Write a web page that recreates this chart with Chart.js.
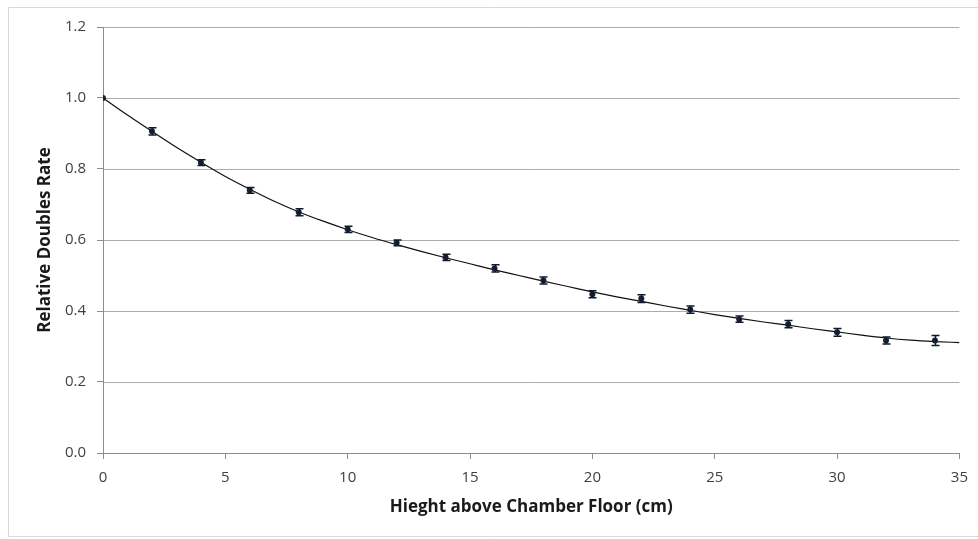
<!DOCTYPE html>
<html>
<head>
<meta charset="utf-8">
<title>Relative Doubles Rate vs Height</title>
<script src="https://cdn.jsdelivr.net/npm/chart.js@4/dist/chart.umd.min.js"></script>
<style>
  html, body { margin: 0; padding: 0; background: #ffffff; }
  #wrap { position: relative; width: 978px; height: 539px; }
</style>
</head>
<body>
<div id="wrap"><canvas id="chart" width="978" height="539"></canvas></div>
<script>
// Measured points: height above floor (cm) and relative doubles rate
const heights = [0, 2, 4, 6, 8, 10, 12, 14, 16, 18, 20, 22, 24, 26, 28, 30, 32, 34];
const doublesRate = [1.000, 0.906, 0.818, 0.740, 0.678, 0.630, 0.592, 0.551, 0.520, 0.486,
                     0.447, 0.435, 0.404, 0.377, 0.363, 0.340, 0.317, 0.317];
const rateError = [0, 0.010, 0.008, 0.008, 0.010, 0.009, 0.008, 0.009, 0.010, 0.010,
                   0.010, 0.011, 0.010, 0.009, 0.010, 0.011, 0.010, 0.014];

// Smooth fitted trend curve
const fitHeights = [0, 1, 2, 3, 4, 5, 6, 7, 8, 9, 10, 11, 12, 13, 14, 15, 16, 17, 18,
                    19, 20, 21, 22, 23, 24, 25, 26, 27, 28, 29, 30, 31, 32, 33, 34, 35];
const fitRate = [1.000, 0.952, 0.906, 0.861, 0.819, 0.779, 0.743, 0.709, 0.679, 0.653,
                 0.629, 0.607, 0.587, 0.568, 0.550, 0.533, 0.516, 0.500, 0.484, 0.469,
                 0.454, 0.440, 0.427, 0.414, 0.402, 0.390, 0.379, 0.369, 0.360, 0.350,
                 0.341, 0.332, 0.324, 0.318, 0.314, 0.311];

// Axis ticks
const xTicks = [0, 5, 10, 15, 20, 25, 30, 35];
const yTicks = [0.0, 0.2, 0.4, 0.6, 0.8, 1.0, 1.2];

const pointData = heights.map((h, i) => ({ x: h, y: doublesRate[i] }));
const fitData = fitHeights.map((h, i) => ({ x: h, y: fitRate[i] }));

// White background, light outer frame, and horizontal gridlines across the plot area
const backdropPlugin = {
  id: 'backdrop',
  beforeDraw(chart) {
    const ctx = chart.ctx;
    const a = chart.chartArea, ys = chart.scales.y;
    ctx.save();
    ctx.fillStyle = '#ffffff';
    ctx.fillRect(0, 0, chart.width, chart.height);
    ctx.strokeStyle = '#d9d9d9';
    ctx.lineWidth = 1;
    ctx.beginPath();
    ctx.moveTo(chart.width, 7.5);
    ctx.lineTo(8.5, 7.5);
    ctx.lineTo(8.5, 536.5);
    ctx.lineTo(chart.width, 536.5);
    ctx.stroke();
    ctx.strokeStyle = '#ababab';
    yTicks.forEach(v => {
      const py = Math.round(ys.getPixelForValue(v)) + 0.5;
      ctx.beginPath();
      ctx.moveTo(a.left, py);
      ctx.lineTo(a.right, py);
      ctx.stroke();
    });
    ctx.restore();
  }
};

// Vertical error bars with caps for the measured points
const errorBarPlugin = {
  id: 'errorBars',
  afterDatasetsDraw(chart) {
    const ctx = chart.ctx;
    const xs = chart.scales.x, ys = chart.scales.y;
    ctx.save();
    ctx.strokeStyle = '#111827';
    ctx.lineWidth = 1.5;
    heights.forEach((h, i) => {
      const e = rateError[i];
      if (!e) return;
      const px = Math.round(xs.getPixelForValue(h)) + 0.5;
      const yTop = ys.getPixelForValue(doublesRate[i] + e);
      const yBot = ys.getPixelForValue(doublesRate[i] - e);
      ctx.beginPath();
      ctx.moveTo(px, yTop); ctx.lineTo(px, yBot);
      ctx.moveTo(px - 4, yTop); ctx.lineTo(px + 4, yTop);
      ctx.moveTo(px - 4, yBot); ctx.lineTo(px + 4, yBot);
      ctx.stroke();
    });
    ctx.restore();
  }
};

const tickFont = { family: "'Open Sans', 'Liberation Sans', sans-serif", size: 15 };
const titleFont = { family: "'Open Sans', 'Liberation Sans', sans-serif", size: 17, weight: 'bold' };

new Chart(document.getElementById('chart'), {
  type: 'scatter',
  data: {
    datasets: [
      {
        label: 'Relative Doubles Rate',
        data: pointData,
        showLine: false,
        pointRadius: 3,
        pointHoverRadius: 3,
        pointBackgroundColor: '#16213a',
        pointBorderColor: '#16213a',
        pointBorderWidth: 0,
        order: 1
      },
      {
        label: 'Fit',
        data: fitData,
        showLine: true,
        pointRadius: 0,
        borderColor: '#111111',
        borderWidth: 1.2,
        cubicInterpolationMode: 'monotone',
        fill: false,
        order: 2
      }
    ]
  },
  options: {
    responsive: false,
    animation: false,
    events: [],
    layout: { padding: { left: 0, right: 18, top: 27, bottom: 0 } },
    plugins: {
      legend: { display: false },
      tooltip: { enabled: false },
      title: { display: false }
    },
    scales: {
      x: {
        type: 'linear',
        min: 0,
        max: 35,
        afterBuildTicks(scale) { scale.ticks = xTicks.map(v => ({ value: v })); },
        afterFit(scale) { scale.height = 86; },
        grid: { drawOnChartArea: false, drawTicks: true, tickLength: 6, color: '#8c8c8c' },
        border: { display: true, color: '#8c8c8c', width: 1 },
        ticks: { font: tickFont, color: '#404040', padding: 10, maxRotation: 0,
                 callback: v => String(v) },
        title: {
          display: true,
          text: 'Hieght above Chamber Floor (cm)',
          font: titleFont,
          color: '#1a1a1a',
          padding: { top: 0, bottom: 22 }
        }
      },
      y: {
        type: 'linear',
        min: 0,
        max: 1.2,
        afterBuildTicks(scale) { scale.ticks = yTicks.map(v => ({ value: v })); },
        afterFit(scale) { scale.width = 103; },
        grid: { drawOnChartArea: false, drawTicks: true, tickLength: 6, color: '#8c8c8c' },
        border: { display: true, color: '#8c8c8c', width: 1 },
        ticks: { font: tickFont, color: '#404040', padding: 11,
                 callback: v => Number(v).toFixed(1) },
        title: {
          display: true,
          text: 'Relative Doubles Rate',
          font: titleFont,
          color: '#1a1a1a',
          padding: { top: 35, bottom: 0 }
        }
      }
    }
  },
  plugins: [backdropPlugin, errorBarPlugin]
});
</script>
</body>
</html>
